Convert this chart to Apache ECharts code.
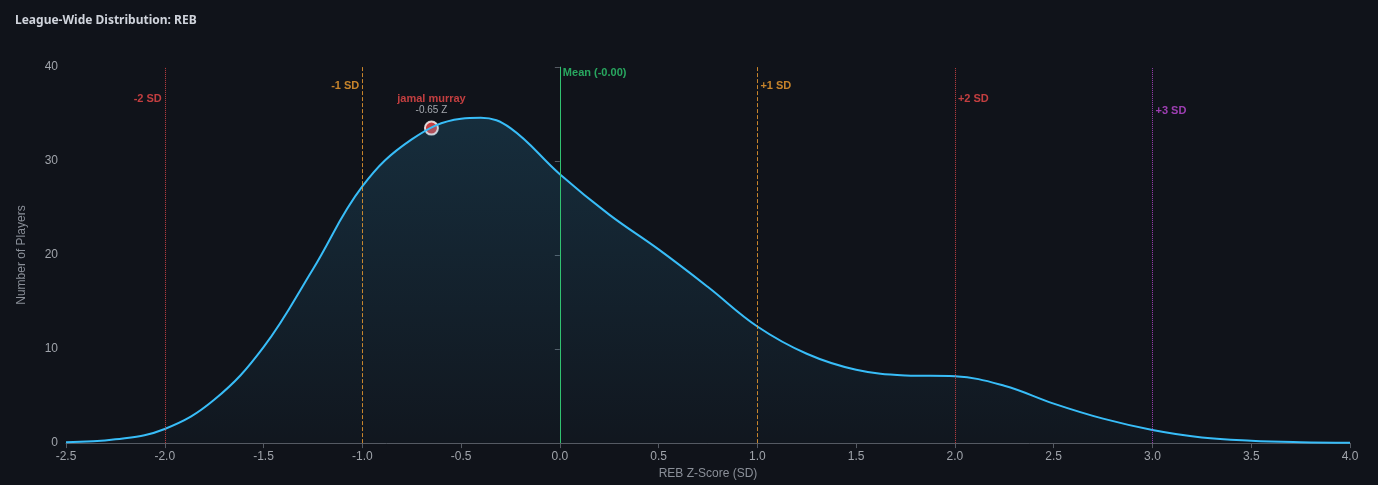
<!DOCTYPE html>
<html><head><meta charset="utf-8">
<script src="https://cdn.jsdelivr.net/npm/echarts@6/dist/echarts.min.js"></script>
<style>html,body{margin:0;background:#10131a}#c{width:1378px;height:485px}</style></head>
<body><div id="c"></div>
<script>
const xs = [-2.5,-2.25,-2.0,-1.75,-1.5,-1.25,-1.0,-0.75,-0.5,-0.4,-0.25,0,0.25,0.5,0.75,1.0,1.25,1.5,1.75,2.0,2.25,2.5,2.75,3.0,3.25,3.5,3.75,4.0];
const ys = [0.1,0.4,1.5,4.6,10.2,18.5,27.3,32.3,34.5,34.6,33.5,28.6,24.3,20.6,16.6,12.4,9.5,7.8,7.2,7.1,6.1,4.2,2.6,1.4,0.6,0.25,0.1,0.05];
const sdLines = [
 {x:-2, y:36.6, text:'-2 SD', color:'#f04a4a', side:'left', type:'dotted'},
 {x:-1, y:38.0, text:'-1 SD', color:'#f5a030', side:'left', type:'dashed'},
 {x:0, y:39.4, text:'Mean (-0.00)', color:'#2ecc71', side:'right', type:'solid'},
 {x:1, y:38.0, text:'+1 SD', color:'#f5a030', side:'right', type:'dashed'},
 {x:2, y:36.6, text:'+2 SD', color:'#f04a4a', side:'right', type:'dotted'},
 {x:3, y:35.3, text:'+3 SD', color:'#c04ad8', side:'right', type:'dotted'}
];
const player = {name:'jamal murray', z:-0.65, y:33.5};
const ch = echarts.init(document.getElementById('c'));
ch.setOption({
 backgroundColor:'#10131a',
 title:{text:'League-Wide Distribution: REB',left:10,top:10,textStyle:{color:'#d0d4dc',fontSize:12,fontWeight:'bold',fontFamily:'Noto Sans'}},
 grid:{left:66,right:28,top:67,bottom:40},
 xAxis:{type:'value',min:-2.5,max:4,interval:0.5,name:'REB Z-Score (SD)',nameLocation:'middle',nameGap:24,
  nameTextStyle:{color:'#8a8f98',fontSize:12},
  axisLabel:{color:'#a0a4ab',formatter:v=>v.toFixed(1)},axisLine:{lineStyle:{color:'#555a63'}},axisTick:{show:true,lineStyle:{color:'#555a63'}},splitLine:{show:false}},
 yAxis:{type:'value',min:0,max:40,interval:10,name:'Number of Players',nameLocation:'middle',nameGap:38,
  nameTextStyle:{color:'#8a8f98',fontSize:12},
  axisLabel:{color:'#a0a4ab'},axisLine:{show:true,lineStyle:{color:'#555a63'}},axisTick:{show:true,lineStyle:{color:'#555a63'}},splitLine:{show:false}},
 series:[
  {type:'line',data:xs.map((x,i)=>[x,ys[i]]),smooth:0.4,symbol:'none',lineStyle:{color:'#38bdf8',width:2},
   areaStyle:{color:new echarts.graphic.LinearGradient(0,0,0,1,[{offset:0,color:'rgba(56,189,248,0.22)'},{offset:1,color:'rgba(56,189,248,0.03)'}])},
   markLine:{symbol:'none',silent:true,label:{show:false},
    data:sdLines.map(s=>({xAxis:s.x,lineStyle:{color:s.color,type:s.type,width:1,opacity:s.type==='solid'?0.9:0.8}}))}},
  {type:'scatter',symbolSize:0,data:sdLines.map(s=>({value:[s.x,s.y],label:{show:true,position:s.side,distance:3,formatter:s.text,color:s.color,fontSize:11,fontWeight:'bold'}})),silent:true},
  {type:'scatter',data:[{value:[player.z,player.y]}],symbolSize:13,itemStyle:{color:'#f04a4a',borderColor:'#fff',borderWidth:2},
   label:{show:true,position:'top',distance:4,formatter:'{a|'+player.name+'}\n{b|'+player.z.toFixed(2)+' Z}',
    rich:{a:{color:'#f04a4a',fontSize:11,fontWeight:'bold',lineHeight:12},b:{color:'#c8ccd2',fontSize:10,lineHeight:12}}}}
 ]
});
</script></body></html>
